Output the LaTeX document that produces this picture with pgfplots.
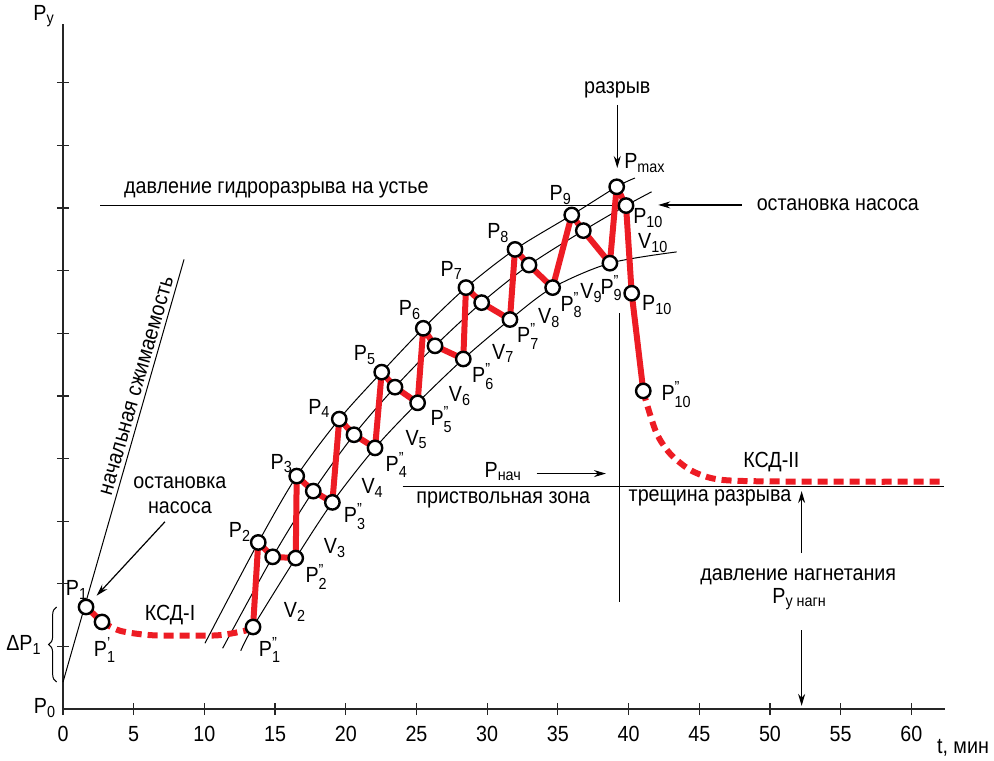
\documentclass[border=0pt,11pt]{standalone}
\usepackage{fontspec}
\setmainfont{Liberation Sans}[FakeStretch=0.9]
\usepackage{amsmath}
\usepackage{pgfplots}
\pgfplotsset{compat=1.18}
\usetikzlibrary{decorations.pathreplacing,arrows.meta}
\definecolor{kred}{RGB}{237,28,36}
\newcommand{\Ps}[1]{P$_{\text{#1}}$}
\newcommand{\Pss}[2]{P$_{\text{#1}}^{\text{#2}}$}
\newcommand{\Vs}[1]{V$_{\text{#1}}$}
\begin{document}
\begin{tikzpicture}[>={Stealth[length=6pt,width=3.5pt]}]
\path[use as bounding box] (-31.5pt,-25.5pt) rectangle (465.5pt,354.5pt);
\begin{axis}[
 scale only axis, width=441pt, height=342.5pt,
 xmin=0, xmax=62.38, ymin=0, ymax=10.94,
 axis lines=left, axis line style={-, line width=1.4pt, draw=black!85},
 xtick={0,5,...,60}, ytick={1,...,10}, yticklabels={},
 tick align=center, major tick length=6pt, tick style={line width=0.6pt, black!85},
 /pgf/number format/assume math mode=true,
 xticklabel style={yshift=-2pt},
 clip=false,
]
% thin curves
\addplot[black, line width=0.5pt, smooth] coordinates {(10.04,1.05) (13.81,2.66) (16.53,3.72) (19.54,4.63) (22.54,5.38) (25.48,6.08) (28.50,6.73) (31.97,7.34) (35.98,7.89) (39.16,8.34) (40.45,8.48)};
\addplot[black, line width=0.5pt, smooth] coordinates {(11.29,0.97) (14.83,2.43) (17.70,3.48) (20.58,4.38) (23.48,5.14) (26.31,5.80) (29.61,6.49) (32.96,7.09) (36.80,7.64) (39.82,8.04) (41.63,8.26)};
\addplot[black, line width=0.5pt, smooth] coordinates {(12.57,0.93) (13.44,1.31) (16.46,2.41) (19.05,3.30) (22.07,4.17) (25.08,4.89) (28.31,5.59) (31.61,6.22) (34.63,6.73) (38.68,7.12) (43.40,7.30)};
% initial compressibility line
\addplot[black, line width=0.5pt] coordinates {(0,0.43) (8.56,7.18)};
% horizontal lines
\addplot[black, line width=0.6pt] coordinates {(2.62,8.04) (39.8,8.04)};
\addplot[black, line width=0.6pt] coordinates {(24.02,3.55) (62.3,3.55)};
\addplot[black, line width=0.6pt] coordinates {(39.34,6.32) (39.34,1.71)};
% dashed red
\addplot[kred, line width=3pt, dash pattern=on 5pt off 3pt, smooth] coordinates {(2.76,1.39) (4.03,1.25) (6.15,1.18) (8.98,1.17) (11.1,1.18) (12.87,1.25) (13.44,1.31)};
\addplot[kred, line width=3pt, dash pattern=on 5pt off 3pt, smooth] coordinates {(41.04,5.08) (41.28,4.88) (41.99,4.40) (42.93,4.08) (44.34,3.82) (46.0,3.68) (48.35,3.64) (55,3.63) (62.26,3.63)};
% red solid
\addplot[kred, line width=3pt] coordinates {(1.63,1.63) (2.76,1.39)};
\addplot[kred, line width=3pt, line join=round] coordinates {(13.44,1.31) (13.81,2.66) (14.83,2.43) (16.46,2.41) (16.53,3.72) (17.70,3.48) (19.05,3.30) (19.54,4.63) (20.58,4.38) (22.07,4.17) (22.54,5.38) (23.48,5.14) (25.08,4.89) (25.48,6.08) (26.31,5.80) (28.31,5.59) (28.50,6.73) (29.61,6.49) (31.61,6.22) (31.97,7.34) (32.96,7.09) (34.63,6.73) (35.98,7.89) (36.80,7.64) (38.68,7.12) (39.16,8.34) (39.82,8.04) (40.22,6.64) (41.04,5.08)};
% circles
\addplot[only marks, mark=*, mark size=3.6pt, mark options={fill=white, draw=black, line width=1.2pt}] coordinates {(1.63,1.63) (2.76,1.39) (13.44,1.31) (13.81,2.66) (14.83,2.43) (16.46,2.41) (16.53,3.72) (17.70,3.48) (19.05,3.30) (19.54,4.63) (20.58,4.38) (22.07,4.17) (22.54,5.38) (23.48,5.14) (25.08,4.89) (25.48,6.08) (26.31,5.80) (28.31,5.59) (28.50,6.73) (29.61,6.49) (31.61,6.22) (31.97,7.34) (32.96,7.09) (34.63,6.73) (35.98,7.89) (36.80,7.64) (38.68,7.12) (39.16,8.34) (39.82,8.04) (40.22,6.64) (41.04,5.08)};
% arrows
\draw[->, line width=0.6pt] (axis cs:39.2,9.65) -- (axis cs:39.2,8.64);
\draw[->, line width=0.6pt] (axis cs:48.0,8.05) -- (axis cs:42.1,8.05);
\draw[->, line width=0.6pt] (axis cs:7.21,2.99) -- (axis cs:2.38,1.81);
\draw[->, line width=0.6pt] (axis cs:33.5,3.76) -- (axis cs:38.4,3.76);
\draw[->, line width=0.6pt] (axis cs:52.24,2.49) -- (axis cs:52.24,3.48);
\draw[->, line width=0.6pt] (axis cs:52.24,1.26) -- (axis cs:52.24,0.05);
% brace
\draw[decorate, decoration={brace, amplitude=4pt}, line width=0.5pt] (axis cs:-0.45,0.43) -- (axis cs:-0.45,1.63);
% labels
\node at (axis cs:-1.34,11.06) {P$_{\text{у}}$};
\node at (axis cs:-1.27,0.02) {\Ps{0}};
\node at (axis cs:-2.76,1.02) {Δ\Ps{1}};
\node at (axis cs:63.65,-0.62) {t, мин};
\node at (axis cs:0.99,1.90) {\Ps{1}};
\node at (axis cs:2.97,0.94) {\Pss{1}{'}};
\node at (axis cs:7.57,1.50) {КСД-I};
\node at (axis cs:14.64,0.94) {\Pss{1}{"}};
\node at (axis cs:16.41,1.55) {\Vs{2}};
\node at (axis cs:12.52,2.83) {\Ps{2}};
\node at (axis cs:17.94,2.11) {\Pss{2}{"}};
\node at (axis cs:19.24,2.57) {\Vs{3}};
\node at (axis cs:15.47,3.92) {\Ps{3}};
\node at (axis cs:20.65,3.07) {\Pss{3}{"}};
\node at (axis cs:21.9,3.53) {\Vs{4}};
\node at (axis cs:18.13,4.80) {\Ps{4}};
\node at (axis cs:23.6,3.90) {\Pss{4}{"}};
\node at (axis cs:25.01,4.30) {\Vs{5}};
\node at (axis cs:21.36,5.65) {\Ps{5}};
\node at (axis cs:26.78,4.62) {\Pss{5}{"}};
\node at (axis cs:28.08,5.0) {\Vs{6}};
\node at (axis cs:24.54,6.37) {\Ps{6}};
\node at (axis cs:29.72,5.31) {\Pss{6}{"}};
\node at (axis cs:31.14,5.68) {\Vs{7}};
\node at (axis cs:27.49,7.0) {\Ps{7}};
\node at (axis cs:32.91,5.95) {\Pss{7}{"}};
\node at (axis cs:34.39,6.24) {\Vs{8}};
\node at (axis cs:30.79,7.60) {\Ps{8}};
\node at (axis cs:35.97,6.45) {\Pss{8}{"}};
\node at (axis cs:37.38,6.64) {\Vs{9}};
\node at (axis cs:38.8,6.72) {\Pss{9}{"}};
\node at (axis cs:35.2,8.21) {\Ps{9}};
\node at (axis cs:41.16,8.72) {\Ps{max}};
\node at (axis cs:41.4,7.84) {\Ps{10}};
\node at (axis cs:41.75,7.44) {\Vs{10}};
\node at (axis cs:42.03,6.45) {\Ps{10}};
\node at (axis cs:43.4,5.02) {\Pss{10}{"}};
\node at (axis cs:50.1,3.95) {КСД-II};
\node at (axis cs:45.76,3.37) {трещина разрыва};
\node at (axis cs:31.14,3.34) {приствольная зона};
\node at (axis cs:31.14,3.79) {\Ps{нач}};
\node at (axis cs:52.0,2.11) {давление нагнетания};
\node at (axis cs:52.1,1.76) {P$_{\text{у нагн}}$};
\node at (axis cs:15.1,8.29) {давление гидроразрыва на устье};
\node[align=center, inner sep=0pt] at (axis cs:8.27,3.42) {остановка\\[-1pt]насоса};
\node at (axis cs:54.8,8.05) {остановка насоса};
\node at (axis cs:39.2,9.89) {разрыв};
\node[rotate=74] at (axis cs:5.23,5.16) {начальная сжимаемость};
\end{axis}
\end{tikzpicture}
\end{document}
